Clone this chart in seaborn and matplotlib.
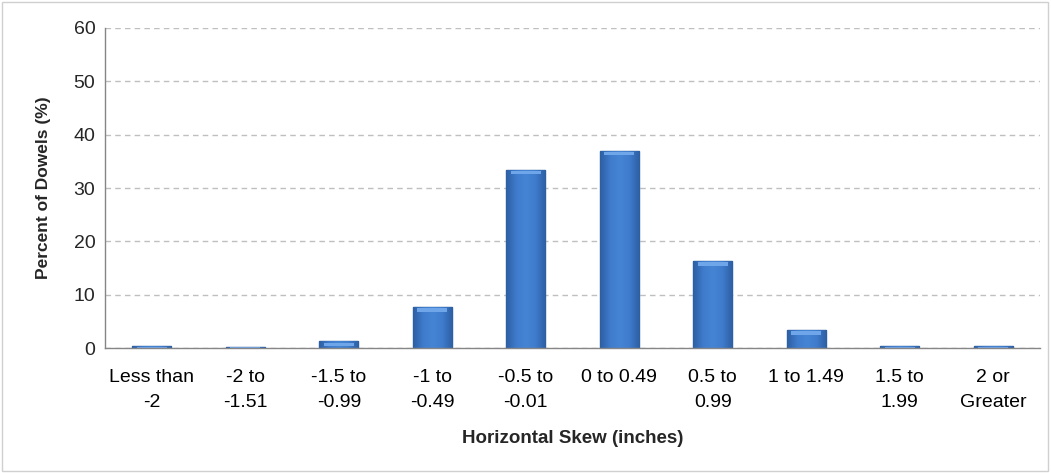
import numpy as np
import pandas as pd
import matplotlib
matplotlib.use('Agg')
import matplotlib.pyplot as plt
import seaborn as sns
from matplotlib.patches import Rectangle
from matplotlib.colors import LinearSegmentedColormap

# Datos
categorias = ['Less than\n-2', '-2 to\n-1.51', '-1.5 to\n-0.99', '-1 to\n-0.49', '-0.5 to\n-0.01',
              '0 to 0.49', '0.5 to\n0.99', '1 to 1.49', '1.5 to\n1.99', '2 or\nGreater']
porcentajes = [0.4, 0.25, 1.3, 7.7, 33.4, 37.0, 16.3, 3.4, 0.4, 0.4]
y_ticks = [0, 10, 20, 30, 40, 50, 60]

df = pd.DataFrame({'skew': categorias, 'pct': porcentajes})

sns.set_style('white')
plt.rcParams['font.family'] = ['Liberation Sans', 'DejaVu Sans']

fig = plt.figure(figsize=(10.51, 4.73), dpi=100)
ax = fig.add_axes([0.1, 0.264, 0.8895, 0.677])

sns.barplot(data=df, x='skew', y='pct', color='#3f7bcc', width=0.42,
            edgecolor='#2b5c9f', linewidth=1.0, saturation=1, ax=ax)

# degradado horizontal en cada barra (aspecto biselado)
cmap = LinearSegmentedColormap.from_list('bisel', ['#2d5fa3', '#3f7bcc', '#4584d4', '#3f7bcc', '#2d5fa3'])
grad = np.linspace(0, 1, 64).reshape(1, -1)
for p in ax.patches:
    x0, y0 = p.get_x(), p.get_y()
    w, h = p.get_width(), p.get_height()
    im = ax.imshow(grad, cmap=cmap, extent=(x0, x0 + w, y0, y0 + h), aspect='auto', zorder=p.get_zorder())
    im.set_clip_path(p)
    # franja clara arriba
    cap = min(h, 1.0)
    ax.add_patch(Rectangle((x0 + w * 0.12, y0 + h - cap * 0.85), w * 0.76, cap * 0.6,
                           facecolor='#6fa6ea', edgecolor='none', zorder=p.get_zorder() + 0.1))
ax.set_xlim(-0.5, len(categorias) - 0.5)
ax.set_ylim(0, 60)
ax.set_yticks(y_ticks)

ax.yaxis.grid(True, linestyle=(0, (4, 3)), color='#bfbfbf', linewidth=1)
ax.set_axisbelow(True)

# ticks entre categorias, estilo Excel
ax.set_xticks(np.arange(-0.5, len(categorias), 1), minor=True)
ax.tick_params(axis='x', which='major', length=0, labelsize=14, colors='black', pad=15)
ax.tick_params(axis='x', which='minor', length=6, color='#868686', width=1, direction='out')
ax.tick_params(axis='y', which='major', length=5, color='#868686', width=1, labelsize=14, pad=2)
for lab in ax.get_xticklabels():
    lab.set_linespacing(1.6)

for s in ['top', 'right']:
    ax.spines[s].set_visible(False)
for s in ['left', 'bottom']:
    ax.spines[s].set_color('#868686')
    ax.spines[s].set_linewidth(1)

ax.set_xlabel('Horizontal Skew (inches)', fontsize=13.5, fontweight='bold', labelpad=14)
ax.set_ylabel('Percent of Dowels (%)', fontsize=12.5, fontweight='bold', labelpad=16)

# borde exterior del grafico
fig.patches.append(Rectangle((0.002, 0.004), 0.995, 0.992, transform=fig.transFigure,
                             fill=False, edgecolor='#d0d0d0', linewidth=1))

plt.savefig('out.png', dpi=100)
plt.close()
